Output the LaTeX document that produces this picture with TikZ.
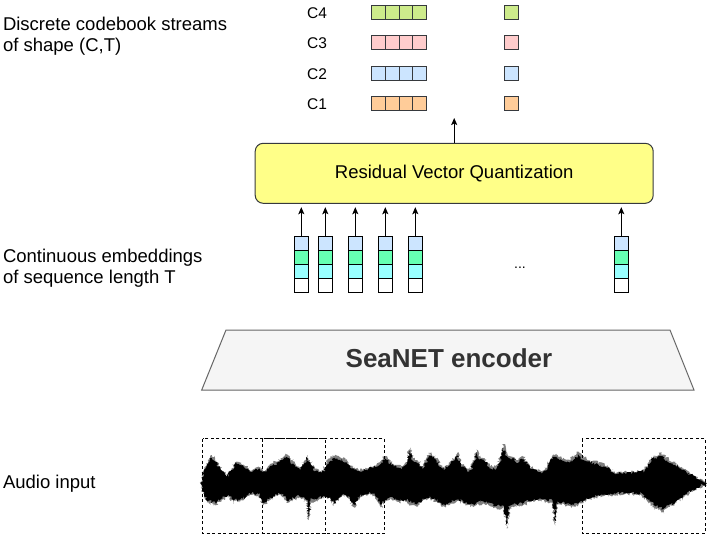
\documentclass[tikz,border=0pt]{standalone}
\usepackage{fontspec}
\setmainfont{Liberation Sans}
\usetikzlibrary{arrows.meta,decorations.pathmorphing}
\definecolor{cbgreen}{HTML}{CDEB8B}
\definecolor{cbpink}{HTML}{FFCCCC}
\definecolor{cbblue}{HTML}{CCE5FF}
\definecolor{cborange}{HTML}{FFCC99}
\definecolor{emgreen}{HTML}{66FFB3}
\definecolor{emcyan}{HTML}{99FFFF}
\definecolor{rvqfill}{HTML}{FFFF88}
\definecolor{darkedge}{HTML}{36393D}
\definecolor{encfill}{HTML}{F5F5F5}
\definecolor{encedge}{HTML}{666666}
\definecolor{enctext}{HTML}{333333}
\newcommand\waveshape{(35,485) -- (42,445) -- (55,425) -- (65,405) -- (75,420) -- (90,440) -- (110,468) -- (125,445) -- (140,425) -- (150,430) -- (165,438) -- (185,452) -- (205,440) -- (220,455) -- (240,432) -- (260,425) -- (280,410) -- (290,402) -- (300,415) -- (315,430) -- (330,448) -- (345,420) -- (352,405) -- (360,420) -- (375,450) -- (395,455) -- (410,430) -- (420,415) -- (435,408) -- (450,412) -- (470,420) -- (490,440) -- (510,450) -- (530,445) -- (555,435) -- (575,420) -- (585,408) -- (600,425) -- (620,435) -- (640,440) -- (652,420) -- (660,382) -- (668,415) -- (685,425) -- (700,440) -- (715,405) -- (725,398) -- (740,415) -- (760,445) -- (780,425) -- (795,410) -- (802,398) -- (810,425) -- (825,440) -- (840,450) -- (852,420) -- (860,388) -- (868,410) -- (885,418) -- (900,440) -- (920,440) -- (932,410) -- (940,372) -- (948,400) -- (965,410) -- (985,420) -- (1000,410) -- (1020,440) -- (1040,450) -- (1060,455) -- (1080,420) -- (1090,402) -- (1110,410) -- (1130,420) -- (1150,412) -- (1165,395) -- (1180,412) -- (1200,420) -- (1225,428) -- (1250,438) -- (1270,455) -- (1300,458) -- (1340,455) -- (1365,448) -- (1380,420) -- (1395,405) -- (1410,398) -- (1430,412) -- (1450,425) -- (1480,445) -- (1510,465) -- (1550,490) -- (1520,505) -- (1490,525) -- (1460,548) -- (1440,560) -- (1420,575) -- (1405,570) -- (1390,560) -- (1375,545) -- (1350,525) -- (1310,520) -- (1270,525) -- (1240,528) -- (1215,532) -- (1190,540) -- (1170,550) -- (1150,560) -- (1125,555) -- (1102,550) -- (1095,615) -- (1088,548) -- (1070,545) -- (1050,540) -- (1025,545) -- (1000,555) -- (980,560) -- (958,565) -- (950,625) -- (943,565) -- (920,565) -- (900,555) -- (880,550) -- (860,555) -- (840,560) -- (820,550) -- (800,545) -- (780,555) -- (760,560) -- (740,545) -- (720,535) -- (700,540) -- (680,560) -- (665,555) -- (650,545) -- (620,545) -- (600,535) -- (585,545) -- (572,562) -- (555,530) -- (540,520) -- (520,528) -- (505,535) -- (492,562) -- (478,535) -- (460,525) -- (445,540) -- (432,557) -- (420,535) -- (405,530) -- (385,540) -- (362,545) -- (356,600) -- (350,545) -- (330,532) -- (310,538) -- (295,548) -- (275,522) -- (255,530) -- (240,540) -- (220,556) -- (205,525) -- (190,522) -- (170,530) -- (150,545) -- (130,547) -- (115,528) -- (95,540) -- (75,556) -- (55,548) -- (42,530) -- (35,495) -- cycle}
\begin{document}
\begin{tikzpicture}[x=1pt,y=-1pt,
  lbl/.style={inner sep=0pt,outer sep=0pt,font=\fontsize{18.5}{21.5}\selectfont,align=left,anchor=north west},
  clbl/.style={inner sep=0pt,font=\fontsize{15.5}{18}\selectfont},
  cbcell/.style={draw=darkedge,line width=1pt,inner sep=0pt,outer sep=0pt,minimum width=13.75pt,minimum height=14pt,anchor=north west},
  emcell/.style={draw=black,line width=1pt,inner sep=0pt,outer sep=0pt,minimum width=14pt,minimum height=14pt,anchor=north},
  arr/.style={line width=1pt,-{Stealth[length=7pt,width=6pt,inset=1.5pt]}},
  dashbox/.style={draw=black,line width=0.9pt,dash pattern=on 3pt off 2.5pt},
  jag/.style={decorate,decoration={random steps,segment length=1.2pt,amplitude=1.8pt}}
]
\useasboundingbox (0,0) rectangle (712,535);
\fill[white] (0,0) rectangle (712,535);

% left labels
\node[lbl] (lcode) at (3,17) {Discrete codebook streams\\of shape (C,T)};
\node[lbl] (lemb) at (3,249) {Continuous embeddings\\of sequence length T};
\node[lbl] (laud) at (3,475.5) {Audio input};

% codebook streams
\foreach \r/\yy/\col in {4/6/cbgreen,3/36/cbpink,2/66.7/cbblue,1/96.7/cborange}{
  \node[clbl] (cl\r) at (317,\yy+7) {C\r};
  \foreach \k in {0,...,3}{
    \node[cbcell,fill=\col] (cb\r-\k) at (371.7+13.75*\k,\yy) {};
  }
  \node[cbcell,fill=\col] (cb\r-last) at (504.5,\yy) {};
}

% RVQ
\node[draw=darkedge,fill=rvqfill,line width=1pt,rounded corners=8pt,minimum width=398pt,minimum height=60pt,inner sep=0pt,font=\fontsize{18.5}{21.5}\selectfont] (rvq) at (454.2,173.3) {Residual Vector Quantization};
\coordinate (cbin) at (454.2,118);
\draw[arr] (rvq.north) -- (cbin);

% embeddings
\foreach \n/\xx in {1/301.3,2/325.3,3/355.3,4/385.3,5/415.3,6/621.3}{
  \node[emcell,fill=cbblue] (e\n a) at (\xx,236) {};
  \node[emcell,fill=emgreen] (e\n b) at (\xx,250) {};
  \node[emcell,fill=emcyan] (e\n c) at (\xx,264) {};
  \node[emcell,fill=white] (e\n d) at (\xx,278) {};
  \draw[arr,shorten >=3.4pt] (e\n a.north) -- (e\n a.north |- rvq.south);
}
\node[inner sep=0pt,font=\fontsize{14}{16}\selectfont,anchor=base] (dots) at (520,268) {...};

% encoder
\path[draw=encedge,fill=encfill,line width=1pt] (226,330) -- (670,330) -- (694,390) -- (201.7,390) -- cycle;
\node[inner sep=0pt,text=enctext,font=\bfseries\fontsize{26}{30}\selectfont] (enc) at (449,358) {SeaNET encoder};

% waveform (coordinates in 1/3 px, offset 190,320)
\pgfmathsetseed{5}
\begin{scope}[shift={(190,320)},x=1/3*1pt,y=-1/3*1pt]
  \fill[black!50,jag] \waveshape;
  \begin{scope}[shift={(0,490)},yscale=0.9,shift={(0,-490)}]
    \fill[black,jag] \waveshape;
  \end{scope}
\end{scope}

% dashed frames
\draw[dashbox] (202.7,438.5) rectangle (325,533.5);
\draw[dashbox] (262.7,438.5) rectangle (384.3,533.5);
\draw[dashbox] (582.3,438.5) rectangle (705,533.5);
\end{tikzpicture}
\end{document}
